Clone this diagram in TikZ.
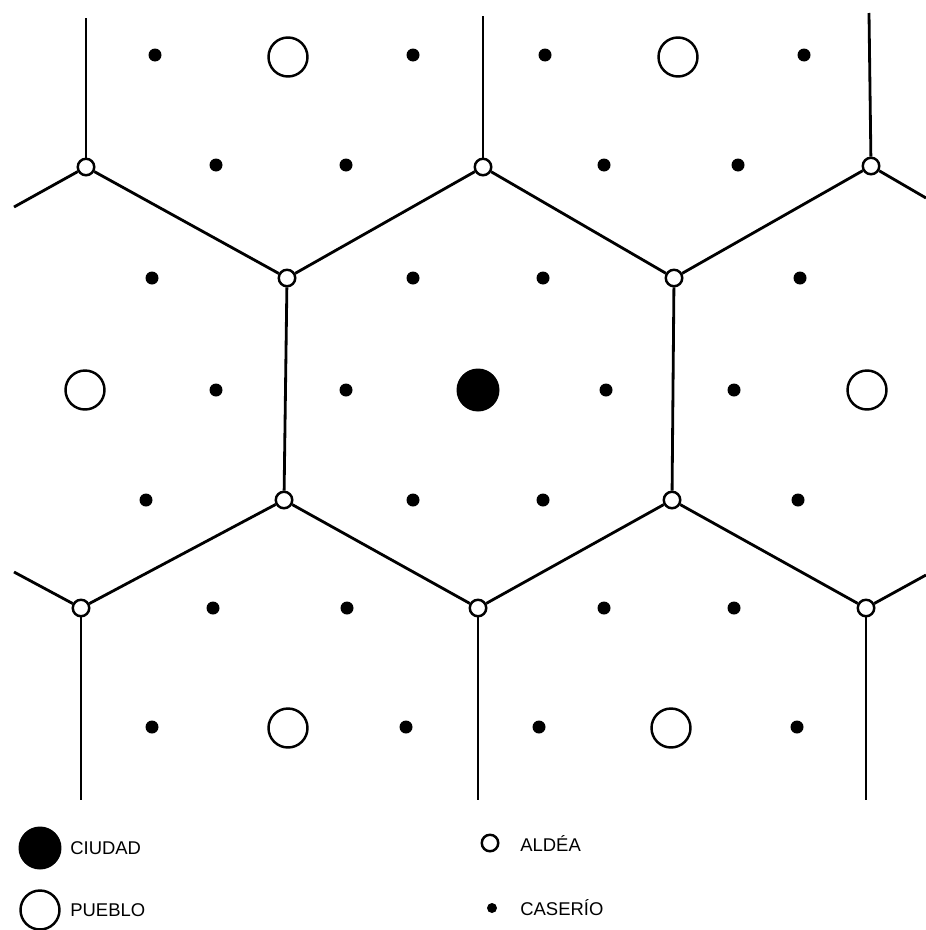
\documentclass[tikz,border=0pt]{standalone}
\usepackage{fontspec}
\setmainfont{Liberation Sans}
\begin{document}
\begin{tikzpicture}[x=0.02cm, y=-0.02cm,
		limite/.style={line width=1.6pt},
		aldea/.style={circle, draw, fill=white, line width=1.4pt, inner sep=0pt, minimum size=0.33cm},
		pueblo/.style={circle, draw, line width=1.4pt, inner sep=0pt, minimum size=0.78cm},
		ciudad/.style={circle, fill=black, inner sep=0pt, minimum size=0.86cm},
		caserio/.style={circle, fill=black, inner sep=0pt, minimum size=0.26cm},
		rotulo/.style={right, font=\fontsize{10.5}{12}\selectfont, inner sep=0pt}]
	\useasboundingbox (0,0) rectangle (926,930);
	% extremos libres de los limites
	\coordinate (t1) at (86,18);
	\coordinate (t2) at (483,16);
	\coordinate (t3) at (869,13);
	\coordinate (b1) at (81,800);
	\coordinate (b2) at (478,800);
	\coordinate (b3) at (866,800);
	\coordinate (lt) at (14,207);
	\coordinate (rt) at (926,198);
	\coordinate (lb) at (14,572);
	\coordinate (rb) at (926,575);
	% aldeas (vertices)
	\node[aldea] (at1) at (86,167) {};
	\node[aldea] (at2) at (483,167) {};
	\node[aldea] (at3) at (871,166) {};
	\node[aldea] (am1) at (287,278) {};
	\node[aldea] (am2) at (674,278) {};
	\node[aldea] (bm1) at (284,500) {};
	\node[aldea] (bm2) at (672,500) {};
	\node[aldea] (ab1) at (81,608) {};
	\node[aldea] (ab2) at (478,608) {};
	\node[aldea] (ab3) at (866,608) {};
	% limites
	\draw[limite] (t1) -- (at1); \draw[limite] (t2) -- (at2); \draw[limite] (t3) -- (at3);
	\draw[limite] (lt) -- (at1) -- (am1) -- (at2) -- (am2) -- (at3) -- (rt);
	\draw[limite] (am1) -- (bm1); \draw[limite] (am2) -- (bm2);
	\draw[limite] (lb) -- (ab1) -- (bm1) -- (ab2) -- (bm2) -- (ab3) -- (rb);
	\draw[limite] (ab1) -- (b1); \draw[limite] (ab2) -- (b2); \draw[limite] (ab3) -- (b3);
	% ciudad y pueblos
	\node[ciudad] (c) at (478,390) {};
	\node[pueblo] (p1) at (288,57) {};
	\node[pueblo] (p2) at (678,57) {};
	\node[pueblo] (p3) at (85,390) {};
	\node[pueblo] (p4) at (867,390) {};
	\node[pueblo] (p5) at (288,728) {};
	\node[pueblo] (p6) at (671,728) {};
	% caserios
	\foreach \x/\y [count=\i] in {155/55, 413/55, 545/55, 804/55,
			216/165, 346/165, 604/165, 738/165,
			152/278, 413/278, 543/278, 800/278,
			216/390, 346/390, 606/390, 734/390,
			146/500, 413/500, 543/500, 798/500,
			213/608, 347/608, 604/608, 734/608,
			152/727, 406/727, 539/727, 797/727}
		\node[caserio] (k\i) at (\x,\y) {};
	% leyenda
	\node[ciudad] (lc) at (40,848) {};
	\node[rotulo] at (70,848) {CIUDAD};
	\node[pueblo] (lp) at (40,910) {};
	\node[rotulo] at (70,910) {PUEBLO};
	\node[aldea] (la) at (490,843) {};
	\node[rotulo] at (520,843) {ALDÉA};
	\node[caserio, minimum size=0.2cm] (lk) at (492,908) {};
	\node[rotulo] at (520,908) {CASERÍO};
\end{tikzpicture}
\end{document}
